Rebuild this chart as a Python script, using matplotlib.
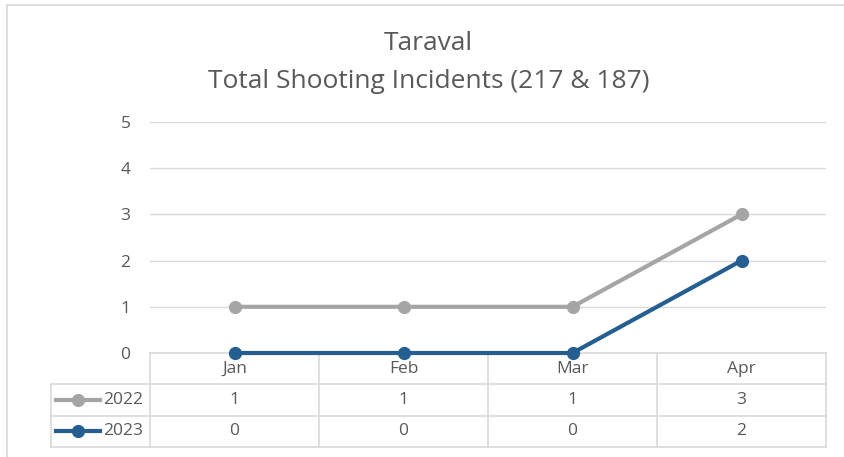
import matplotlib.pyplot as plt
from matplotlib.lines import Line2D

plt.rcParams['font.family'] = ['Open Sans', 'DejaVu Sans']

months = ['Jan', 'Feb', 'Mar', 'Apr']
series = ['2022', '2023']
vals_2022 = [1, 1, 1, 3]
vals_2023 = [0, 0, 0, 2]
colors = ['#A5A5A5', '#255E91']
yticks = [0, 1, 2, 3, 4, 5]

W, H = 844, 457
fig = plt.figure(figsize=(W / 100, H / 100), dpi=100)
txt = '#595959'
fs = 12.5

# outer chart border (left + top visible)
fig.add_artist(Line2D([7 / W, 7 / W], [0, 1 - 5 / H], color='#D9D9D9', lw=1.2))
fig.add_artist(Line2D([7 / W, 1], [1 - 5 / H, 1 - 5 / H], color='#D9D9D9', lw=1.2))

left, right = 150 / W, 826 / W
ax = fig.add_axes([left, 1 - 353 / H, right - left, (353 - 122) / H])
ax.set_zorder(3)
ax.patch.set_visible(False)
xs = list(range(len(months)))
for vals, c in zip([vals_2022, vals_2023], colors):
    ax.plot(xs, vals, color=c, lw=3, marker='o', ms=8.5, zorder=3, clip_on=False)
ax.set_xlim(-0.5, len(months) - 0.5)
ax.set_ylim(0, 5)
ax.set_yticks(yticks)
ax.set_xticks([])
ax.grid(axis='y', color='#D9D9D9', lw=1)
ax.tick_params(axis='y', length=0, pad=14, labelsize=fs, labelcolor=txt)
for s in ax.spines.values():
    s.set_visible(False)

fig.text(0.508, 1 - 44 / H, 'Taraval', ha='center', va='center', fontsize=19, color=txt)
fig.text(0.508, 1 - 81 / H, 'Total Shooting Incidents (217 & 187)', ha='center', va='center',
         fontsize=19, color=txt)

# data table below the plot
tab = fig.add_axes([left, 1 - 447 / H, right - left, (447 - 353) / H])
tab.set_zorder(1)
tab.set_xlim(-0.5, len(months) - 0.5)
tab.set_ylim(3, 0)
tab.axis('off')
lc = '#D9D9D9'
x0 = -0.5 - 99 / 169  # legend column left edge
tab.plot([-0.5, len(months) - 0.5], [0, 0], color=lc, lw=1.2, clip_on=False)
for r in [1, 2, 3]:
    tab.plot([x0, len(months) - 0.5], [r, r], color=lc, lw=1.2, clip_on=False)
for i in range(len(months) + 1):
    tab.plot([i - 0.5, i - 0.5], [0, 3], color=lc, lw=1.2, clip_on=False)
tab.plot([x0, x0], [1, 3], color=lc, lw=1.2, clip_on=False)

for i, m in enumerate(months):
    tab.text(i, 0.5, m, ha='center', va='center', fontsize=fs, color=txt)
for r, (name, vals, c) in enumerate(zip(series, [vals_2022, vals_2023], colors), start=1):
    tab.plot([x0 + 5 / 169, x0 + 49 / 169], [r + 0.5, r + 0.5], color=c, lw=3, clip_on=False)
    tab.plot([x0 + 27 / 169], [r + 0.5], marker='o', ms=8.5, color=c, clip_on=False)
    tab.text(x0 + 52 / 169, r + 0.5, name, ha='left', va='center', fontsize=fs, color=txt)
    for i, v in enumerate(vals):
        tab.text(i, r + 0.5, str(v), ha='center', va='center', fontsize=fs, color=txt)

fig.savefig('out.png', dpi=100)
